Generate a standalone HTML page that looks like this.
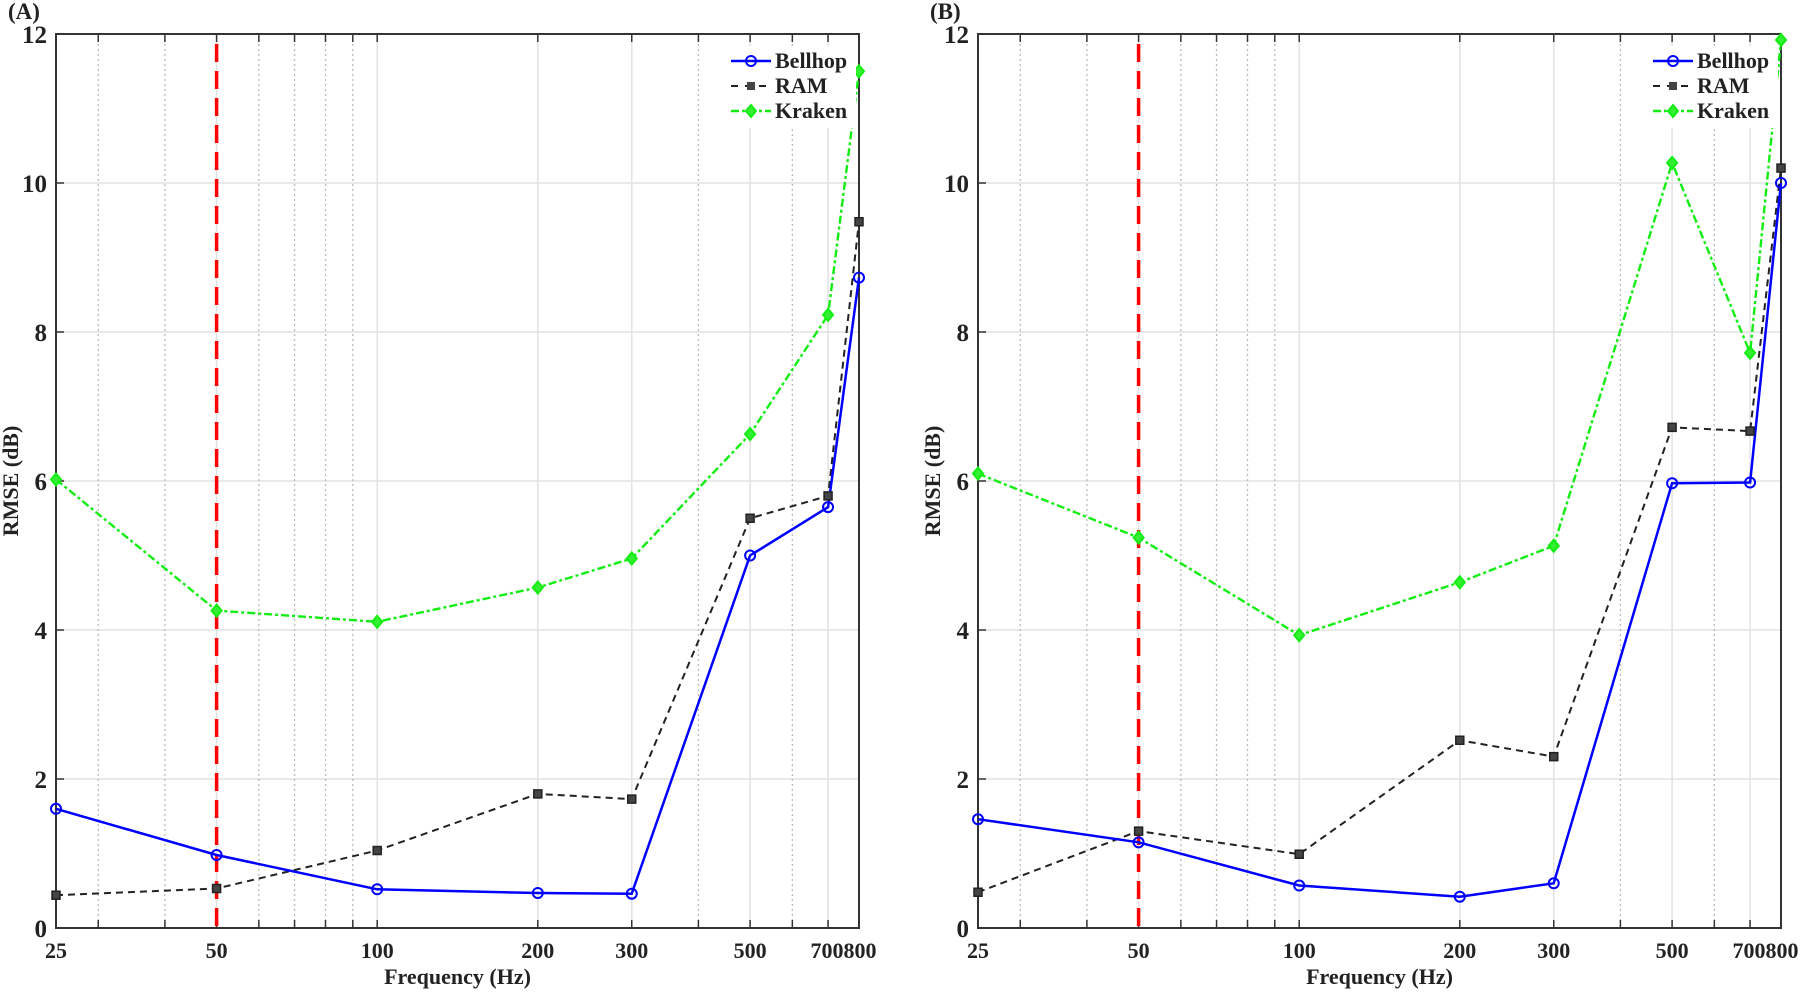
<!DOCTYPE html>
<html><head><meta charset="utf-8"><style>
html,body{margin:0;padding:0;background:#fff;}
svg{display:block;}
text{font-family:"Liberation Serif",serif;font-weight:bold;fill:#222;}
</style></head><body>
<svg id="s" width="1800" height="992" xmlns="http://www.w3.org/2000/svg"></svg>
<script>
const S=document.getElementById('s');let h='';
const T=34,B=928,W=803;
const fx=(L,f)=>L+W*Math.log10(f/25)/Math.log10(32);
const fy=v=>B-(B-T)*v/12;
const F=[25,50,100,200,300,500,700,800];
const data=[
{L:56,lab:'(A)',b:[1.6,0.98,0.52,0.47,0.46,5.0,5.65,8.73],r:[0.44,0.53,1.04,1.8,1.73,5.5,5.8,9.48],k:[6.02,4.26,4.11,4.57,4.96,6.63,8.23,11.5]},
{L:978,lab:'(B)',b:[1.46,1.15,0.57,0.42,0.6,5.97,5.98,10.0],r:[0.48,1.3,0.99,2.52,2.3,6.72,6.67,10.2],k:[6.1,5.24,3.93,4.64,5.13,10.27,7.72,11.92]}];
for(const d of data){
 const L=d.L,R=L+W;
 for(let v=2;v<12;v+=2)h+=`<line x1="${L}" x2="${R}" y1="${fy(v)}" y2="${fy(v)}" stroke="#e2e2e2" stroke-width="1.5"/>`;
 for(const f of [30,40,60,70,80,90,400,600]){const x=fx(L,f);h+=`<line x1="${x}" x2="${x}" y1="${T}" y2="${B}" stroke="#bbb" stroke-width="1.3" stroke-dasharray="2,3"/>`;}
 for(const f of F.slice(1,7)){const x=fx(L,f);h+=`<line x1="${x}" x2="${x}" y1="${T}" y2="${B}" stroke="#e2e2e2" stroke-width="1.5"/>`;}
 for(const f of [30,40,60,70,80,90,400,600].concat(F)){const x=fx(L,f);h+=`<line x1="${x}" x2="${x}" y1="${T}" y2="${T+8}" stroke="#333" stroke-width="1.5"/><line x1="${x}" x2="${x}" y1="${B}" y2="${B-8}" stroke="#333" stroke-width="1.5"/>`;}
 for(let v=0;v<=12;v+=2){const y=fy(v);h+=`<line x1="${L}" x2="${L+8}" y1="${y}" y2="${y}" stroke="#333" stroke-width="1.5"/><text x="${L-9}" y="${y+9}" font-size="25" text-anchor="end">${v}</text>`;}
 F.slice(0,6).forEach(f=>{let x=fx(L,f);h+=`<text x="${x}" y="${B+30}" font-size="22" text-anchor="middle">${f}</text>`;});
 const mid=(fx(L,700)+fx(L,800))/2;
 h+=`<text x="${mid}" y="${B+30}" font-size="22" text-anchor="middle">700800</text>`;
 h+=`<rect x="${L}" y="${T}" width="${W}" height="${B-T}" fill="none" stroke="#333" stroke-width="2"/>`;
 const x50=fx(L,50);h+=`<line x1="${x50}" x2="${x50}" y1="${T+10}" y2="${B}" stroke="#f00" stroke-width="3.5" stroke-dasharray="18,9"/>`;
 const pts=a=>a.map((v,i)=>fx(L,F[i]).toFixed(1)+','+fy(v).toFixed(1)).join(' ');
 h+=`<polyline points="${pts(d.k)}" fill="none" stroke="#1e1" stroke-width="2.4" stroke-dasharray="8,3,3,3"/>`;
 h+=`<polyline points="${pts(d.r)}" fill="none" stroke="#222" stroke-width="2" stroke-dasharray="7,5"/>`;
 h+=`<polyline points="${pts(d.b)}" fill="none" stroke="#00f" stroke-width="2.5"/>`;
 d.k.forEach((v,i)=>{const x=fx(L,F[i]),y=fy(v);h+=`<path d="M${x-5},${y}L${x},${y-6}L${x+5},${y}L${x},${y+6}Z" fill="#3e3" stroke="#1e1" stroke-width="2"/>`;});
 d.r.forEach((v,i)=>{const x=fx(L,F[i]),y=fy(v);h+=`<rect x="${x-4}" y="${y-4}" width="8" height="8" fill="#444" stroke="#222" stroke-width="1.5"/>`;});
 d.b.forEach((v,i)=>{const x=fx(L,F[i]),y=fy(v);h+=`<circle cx="${x}" cy="${y}" r="5" fill="none" stroke="#00f" stroke-width="2"/>`;});
 const lx=L+675;
 h+=`<rect x="${lx-5}" y="46" width="130" height="82" fill="#fff"/>`;
 h+=`<line x1="${lx}" x2="${lx+40}" y1="61" y2="61" stroke="#00f" stroke-width="2.5"/><circle cx="${lx+20}" cy="61" r="5" fill="none" stroke="#00f" stroke-width="2"/><text x="${lx+44}" y="68" font-size="22">Bellhop</text>`;
 h+=`<line x1="${lx}" x2="${lx+40}" y1="86" y2="86" stroke="#222" stroke-width="2" stroke-dasharray="7,7"/><rect x="${lx+16}" y="82" width="8" height="8" fill="#444"/><text x="${lx+44}" y="93" font-size="22">RAM</text>`;
 h+=`<line x1="${lx}" x2="${lx+40}" y1="111" y2="111" stroke="#1e1" stroke-width="2.4" stroke-dasharray="8,3,3,3"/><path d="M${lx+15},111L${lx+20},105L${lx+25},111L${lx+20},117Z" fill="#3e3" stroke="#1e1" stroke-width="2"/><text x="${lx+44}" y="118" font-size="22">Kraken</text>`;
 h+=`<text x="${L-48}" y="19" font-size="23">${d.lab}</text>`;
 h+=`<text x="${L+W/2}" y="984" font-size="22" text-anchor="middle">Frequency (Hz)</text>`;
 h+=`<text transform="translate(${L-38},481) rotate(-90)" font-size="22" text-anchor="middle">RMSE (dB)</text>`;
}
S.innerHTML=h;
</script>
</body></html>
